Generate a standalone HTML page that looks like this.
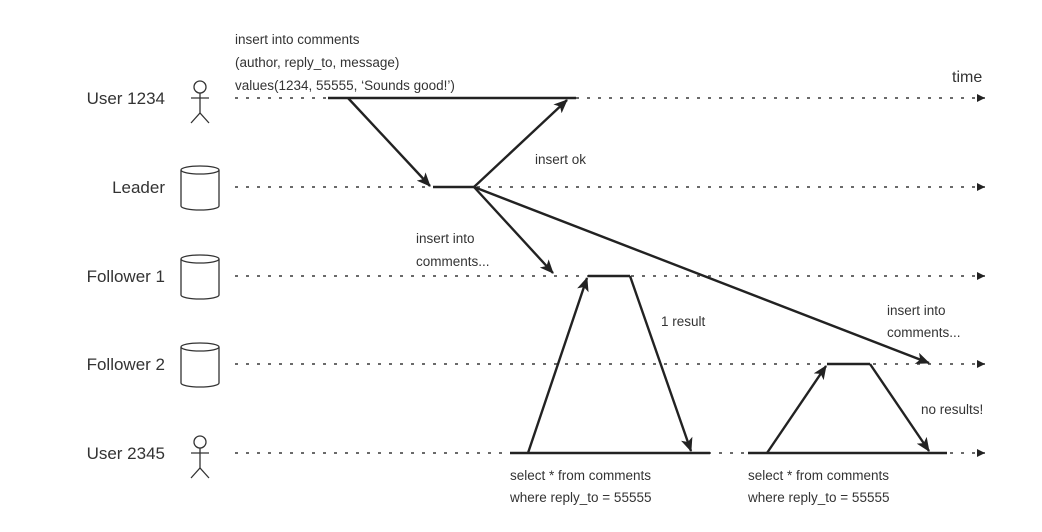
<!DOCTYPE html>
<html><head><style>body{margin:0;background:#fff}svg{display:block}text{font-family:"Liberation Sans",sans-serif;fill:#333}</style></head>
<body>
<svg width="1042" height="532" viewBox="0 0 1042 532" xmlns="http://www.w3.org/2000/svg">
<defs>
<marker id="a" viewBox="0 0 14 12" refX="13" refY="6" markerWidth="15" markerHeight="12" markerUnits="userSpaceOnUse" orient="auto"><path d="M0,0 L14,6 L0,12 L3.5,6 Z" fill="#222"/></marker>
<marker id="t" viewBox="0 0 8 8" refX="8" refY="4" markerWidth="8" markerHeight="8" markerUnits="userSpaceOnUse" orient="auto"><path d="M0,0 L8,4 L0,8 Z" fill="#222"/></marker>
</defs>
<g stroke="#555" stroke-width="1.8" stroke-dasharray="3,8" fill="none">
<line x1="235" y1="98" x2="985" y2="98" marker-end="url(#t)"/>
<line x1="235" y1="187" x2="985" y2="187" marker-end="url(#t)"/>
<line x1="235" y1="276" x2="985" y2="276" marker-end="url(#t)"/>
<line x1="235" y1="364" x2="985" y2="364" marker-end="url(#t)"/>
<line x1="235" y1="453" x2="985" y2="453" marker-end="url(#t)"/>
</g>
<g stroke="#fff" stroke-width="4">
<line x1="328" y1="98" x2="576" y2="98"/><line x1="433" y1="187" x2="474" y2="187"/>
<line x1="588" y1="276" x2="630" y2="276"/><line x1="827" y1="364" x2="870" y2="364"/>
<line x1="510" y1="453" x2="710" y2="453"/><line x1="748" y1="453" x2="947" y2="453"/>
</g>
<g stroke="#222" stroke-width="2.4" fill="none">
<line x1="328" y1="98" x2="576" y2="98"/><line x1="433" y1="187" x2="474" y2="187"/>
<line x1="588" y1="276" x2="630" y2="276"/><line x1="827" y1="364" x2="870" y2="364"/>
<line x1="510" y1="453" x2="710" y2="453"/><line x1="748" y1="453" x2="947" y2="453"/>
<line x1="348" y1="98" x2="430" y2="186" marker-end="url(#a)"/>
<line x1="474" y1="187" x2="567" y2="100" marker-end="url(#a)"/>
<line x1="474" y1="187" x2="553" y2="273" marker-end="url(#a)"/>
<line x1="474" y1="187" x2="929" y2="363" marker-end="url(#a)"/>
<line x1="528" y1="453" x2="587" y2="278" marker-end="url(#a)"/>
<line x1="630" y1="276" x2="691" y2="451" marker-end="url(#a)"/>
<line x1="767" y1="453" x2="826" y2="366" marker-end="url(#a)"/>
<line x1="870" y1="364" x2="929" y2="451" marker-end="url(#a)"/>
</g>
<g stroke="#333" stroke-width="1.3" fill="#fff">
<g><circle cx="200" cy="87" r="6"/><line x1="200" y1="93" x2="200" y2="113"/><line x1="191" y1="98" x2="209" y2="98"/><path d="M191,123 L200,113 L209,123" fill="none"/></g>
<g transform="translate(0,355)"><circle cx="200" cy="87" r="6"/><line x1="200" y1="93" x2="200" y2="113"/><line x1="191" y1="98" x2="209" y2="98"/><path d="M191,123 L200,113 L209,123" fill="none"/></g>
<g><path d="M181,170 L181,206 A19,4 0 0 0 219,206 L219,170" /><ellipse cx="200" cy="170" rx="19" ry="4"/></g>
<g transform="translate(0,89)"><path d="M181,170 L181,206 A19,4 0 0 0 219,206 L219,170" /><ellipse cx="200" cy="170" rx="19" ry="4"/></g>
<g transform="translate(0,177)"><path d="M181,170 L181,206 A19,4 0 0 0 219,206 L219,170" /><ellipse cx="200" cy="170" rx="19" ry="4"/></g>
</g>
<g font-size="17" text-anchor="end">
<text x="165" y="104">User 1234</text><text x="165" y="193">Leader</text>
<text x="165" y="282">Follower 1</text><text x="165" y="370">Follower 2</text>
<text x="165" y="459">User 2345</text>
</g>
<g font-size="13.5">
<text x="235" y="44">insert into comments</text>
<text x="235" y="67">(author, reply_to, message)</text>
<text x="235" y="90">values(1234, 55555, ‘Sounds good!’)</text>
<text x="535" y="164">insert ok</text>
<text x="416" y="243">insert into</text><text x="416" y="266">comments...</text>
<text x="661" y="326">1 result</text>
<text x="887" y="315">insert into</text><text x="887" y="337">comments...</text>
<text x="921" y="414">no results!</text>
<text x="510" y="480">select * from comments</text><text x="510" y="502">where reply_to = 55555</text>
<text x="748" y="480">select * from comments</text><text x="748" y="502">where reply_to = 55555</text>
<text x="952" y="82" font-size="16">time</text>
</g>
</svg>
</body></html>
